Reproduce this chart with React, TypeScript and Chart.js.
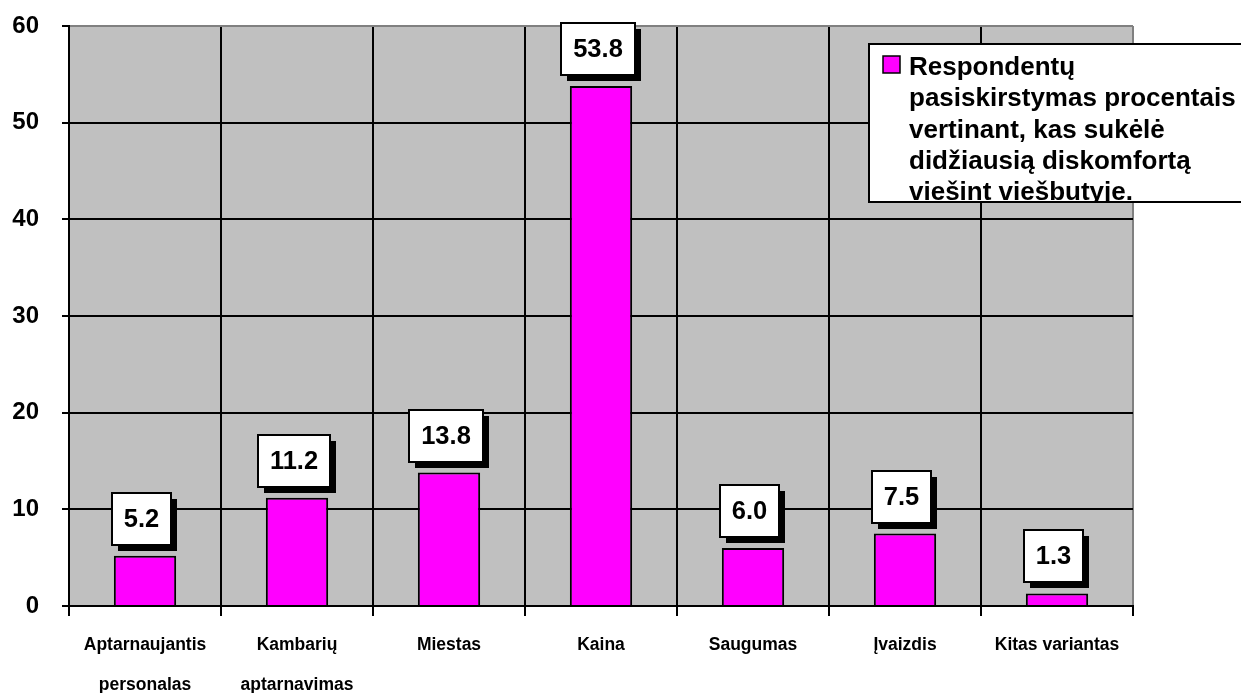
import { useEffect, useRef } from "react";
import { Chart, registerables } from "chart.js";

Chart.register(...registerables);

// Categories (multi-line where the label wraps)
const categories: (string | string[])[] = [
  ["Aptarnaujantis", "personalas"],
  ["Kambarių", "aptarnavimas"],
  "Miestas",
  "Kaina",
  "Saugumas",
  "Įvaizdis",
  "Kitas variantas",
];

// Share of respondents, %
const shares = [5.2, 11.2, 13.8, 53.8, 6.0, 7.5, 1.3];

// Series name, as wrapped in the legend box
const seriesName = [
  "Respondentų",
  "pasiskirstymas procentais",
  "vertinant, kas sukėlė",
  "didžiausią diskomfortą",
  "viešint viešbutyje.",
];

// Value axis ticks
const yTicks = [0, 10, 20, 30, 40, 50, 60];

const FONT = '"Liberation Sans", Arial, Helvetica, sans-serif';
const BAR_FILL = "#FF00FF";
const PLOT_BG = "#C0C0C0";
const FRAME_GRAY = "#808080";

const plotBackground = {
  id: "plotBackground",
  beforeDraw(chart: any) {
    const { ctx, chartArea } = chart;
    const { left, top, right, bottom } = chartArea;
    ctx.save();
    ctx.fillStyle = PLOT_BG;
    ctx.fillRect(left, top, right - left, bottom - top);
    ctx.restore();
  },
};

// White value boxes with a black drop shadow above each bar
const valueBoxes = {
  id: "valueBoxes",
  afterDatasetsDraw(chart: any) {
    const { ctx } = chart;
    const meta = chart.getDatasetMeta(0);
    ctx.save();
    ctx.font = `bold 25.5px ${FONT}`;
    meta.data.forEach((bar: any, i: number) => {
      const text = shares[i].toFixed(1);
      const w = Math.round(ctx.measureText(text).width + 24);
      const h = 52;
      const bx = Math.round(bar.x - 3.5 - w / 2);
      const by = Math.round(bar.y - 11 - h);
      ctx.fillStyle = "#000";
      ctx.fillRect(bx + 6, by + 6, w, h);
      ctx.fillStyle = "#fff";
      ctx.fillRect(bx, by, w, h);
      ctx.strokeStyle = "#000";
      ctx.lineWidth = 2;
      ctx.strokeRect(bx, by, w, h);
      ctx.fillStyle = "#000";
      ctx.textAlign = "center";
      ctx.textBaseline = "alphabetic";
      ctx.fillText(text, bx + w / 2, by + 34);
    });
    ctx.restore();
  },
};

// Legend box at the upper right, running past the canvas edge
const legendBox = {
  id: "legendBox",
  afterDraw(chart: any) {
    const { ctx, chartArea } = chart;
    const x = chartArea.left + 800;
    const y = chartArea.top + 18;
    const w = 420;
    const h = 158;
    ctx.save();
    ctx.fillStyle = "#fff";
    ctx.fillRect(x, y, w, h);
    ctx.strokeStyle = "#000";
    ctx.lineWidth = 2;
    ctx.strokeRect(x, y, w, h);

    ctx.fillStyle = BAR_FILL;
    ctx.fillRect(x + 14, y + 12, 17, 17);
    ctx.lineWidth = 1.5;
    ctx.strokeRect(x + 14, y + 12, 17, 17);

    ctx.beginPath();
    ctx.rect(x + 1, y + 1, w - 2, h - 2);
    ctx.clip();
    ctx.fillStyle = "#000";
    ctx.font = `bold 26px ${FONT}`;
    ctx.textAlign = "left";
    ctx.textBaseline = "alphabetic";
    seriesName.forEach((line, i) => {
      ctx.fillText(line, x + 40, y + 31 + i * 31.3);
    });
    ctx.restore();
  },
};

export default function App() {
  const ref = useRef<HTMLCanvasElement>(null);

  useEffect(() => {
    const chart = new Chart(ref.current as HTMLCanvasElement, {
      type: "bar",
      data: {
        labels: categories,
        datasets: [
          {
            label: seriesName.join(" "),
            data: shares,
            backgroundColor: BAR_FILL,
            borderColor: "#000",
            borderWidth: 2,
            categoryPercentage: 1,
            barPercentage: 0.41,
          },
        ],
      },
      options: {
        responsive: false,
        animation: false,
        events: [],
        layout: { padding: { left: 0, top: 26, right: 108, bottom: 0 } },
        plugins: {
          legend: { display: false },
          tooltip: { enabled: false },
        },
        scales: {
          x: {
            grid: {
              offset: true,
              color: (c: any) => (c.index === undefined ? FRAME_GRAY : "#000"),
              lineWidth: 2,
              tickColor: "#000",
              tickLength: 10,
            },
            border: { color: "#000", width: 2 },
            ticks: {
              color: "#000",
              font: { family: FONT, size: 17.5, weight: "bold", lineHeight: "40px" },
              padding: 9,
              maxRotation: 0,
              autoSkip: false,
            },
            afterFit(scale: any) {
              scale.height = 87;
              scale.paddingLeft = 0;
              scale.paddingRight = 0;
            },
          },
          y: {
            min: 0,
            max: 60,
            afterBuildTicks(scale: any) {
              scale.ticks = yTicks.map((v) => ({ value: v }));
            },
            grid: {
              color: (c: any) => (c.tick && c.tick.value === 60 ? FRAME_GRAY : "#000"),
              lineWidth: 2,
              tickColor: "#000",
              tickLength: 7,
            },
            border: { color: "#000", width: 2 },
            ticks: {
              color: "#000",
              font: { family: FONT, size: 24, weight: "bold" },
              padding: 23,
            },
            afterFit(scale: any) {
              scale.width = 69;
              scale.paddingTop = 0;
              scale.paddingBottom = 0;
            },
          },
        },
      },
      plugins: [plotBackground, valueBoxes, legendBox],
    } as any);
    return () => chart.destroy();
  }, []);

  return (
    <div
      style={{
        position: "fixed",
        left: 0,
        top: 0,
        width: 1241,
        height: 693,
        background: "#fff",
        overflow: "hidden",
      }}
    >
      <canvas ref={ref} width={1241} height={693} style={{ display: "block" }} />
    </div>
  );
}
